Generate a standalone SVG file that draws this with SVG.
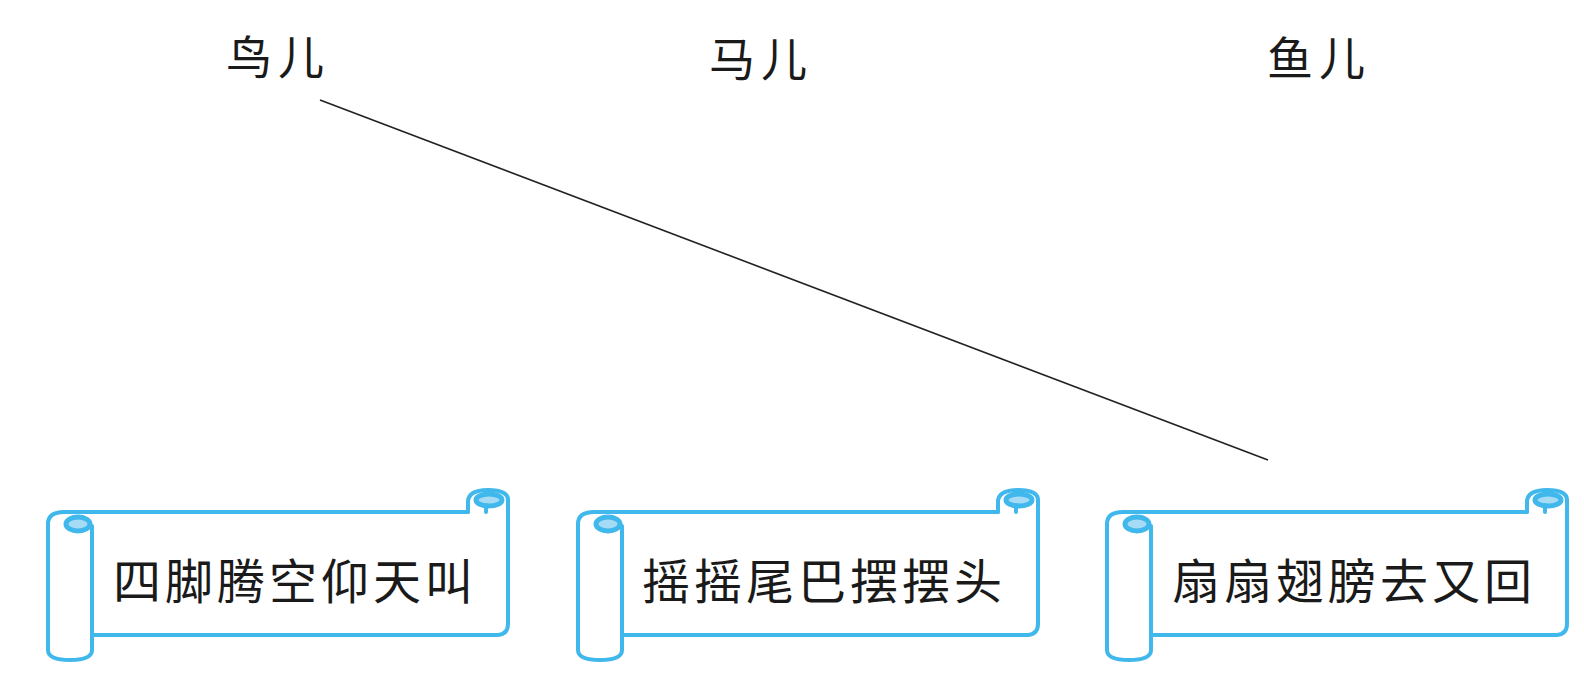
<svg xmlns="http://www.w3.org/2000/svg" width="1584" height="684" viewBox="0 0 1584 684">
  <defs>
    <style>
      .lbl { font-family: "Noto Sans CJK SC", "Noto Sans CJK JP", sans-serif; font-size: 46px; fill: #1a1a1a; text-anchor: middle; dominant-baseline: central; letter-spacing: 6px; }
      .txt { font-family: "Noto Sans CJK SC", "Noto Sans CJK JP", sans-serif; font-size: 48px; fill: #1a1a1a; text-anchor: middle; dominant-baseline: central; letter-spacing: 4px; }
      .sc { fill: none; stroke: #41b8ec; stroke-width: 4; stroke-linejoin: round; stroke-linecap: round; }
      .scf { fill: #a6dbf5; stroke: #41b8ec; stroke-width: 5; }
      .conn { stroke: #222; stroke-width: 1.6; fill: none; }
    </style>
    <g id="scroll">
      <path class="sc" d="M 0 524 Q 0 512 16 512 L 420 512"/>
      <path class="sc" d="M 44 635 L 450 635 Q 460 634 460 624 L 460 500"/>
      <path class="sc" d="M 420 512 L 420 502 Q 420 490 440 490 Q 460 490 460 500"/>
      <ellipse class="scf" cx="441" cy="500" rx="13" ry="6"/>
      <path class="sc" d="M 438 505 L 438 512"/>
      <path class="sc" fill="#ffffff" d="M 44 526 L 44 650 Q 44 660 22 660 Q 0 660 0 650 L 0 524"/>
      <ellipse class="scf" cx="30" cy="524" rx="12" ry="7"/>
    </g>
  </defs>
  <rect width="1584" height="684" fill="#ffffff"/>

  <g id="label-bird"><text class="lbl" x="278" y="54">鸟儿</text></g>
  <g id="label-horse"><text class="lbl" x="761" y="56">马儿</text></g>
  <g id="label-fish"><text class="lbl" x="1319" y="55">鱼儿</text></g>

  <g id="connectors">
    <line class="conn" x1="320" y1="100" x2="1268" y2="460"/>
  </g>

  <g id="scroll-1" transform="translate(48,0)">
    <use href="#scroll"/>
    <text class="txt" x="247" y="578">四脚腾空仰天叫</text>
  </g>
  <g id="scroll-2" transform="translate(578,0)">
    <use href="#scroll"/>
    <text class="txt" x="246" y="578">摇摇尾巴摆摆头</text>
  </g>
  <g id="scroll-3" transform="translate(1107,0)">
    <use href="#scroll"/>
    <text class="txt" x="247" y="578">扇扇翅膀去又回</text>
  </g>
</svg>
